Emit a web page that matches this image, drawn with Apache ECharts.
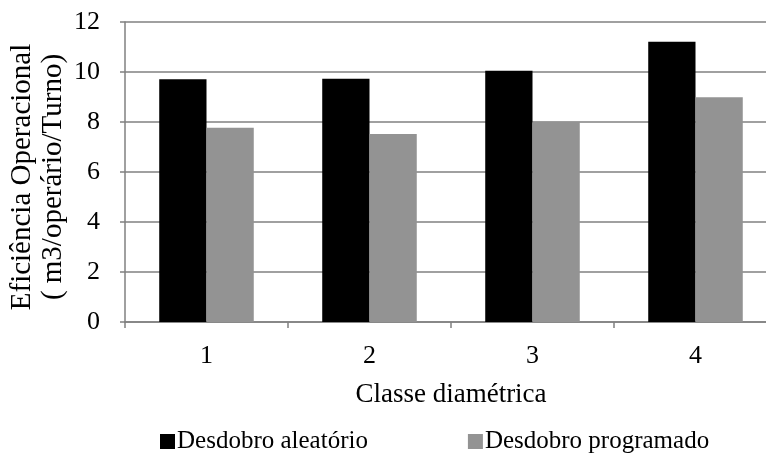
<!DOCTYPE html>
<html>
<head>
<meta charset="utf-8">
<script src="https://cdn.jsdelivr.net/npm/echarts@6/dist/echarts.min.js"></script>
<style>
  html, body { margin: 0; padding: 0; background: #fff; }
  #chart { width: 766px; height: 453px; }
</style>
</head>
<body>
<div id="chart"></div>
<script>
const categories = ['1', '2', '3', '4'];
const aleatorio = [9.71, 9.73, 10.05, 11.21];
const programado = [7.77, 7.52, 8.01, 8.99];
const yTicks = { min: 0, max: 12, interval: 2 };

const font = 'Liberation Serif';
const chart = echarts.init(document.getElementById('chart'));

chart.setOption({
  animation: false,
  textStyle: { fontFamily: font, color: '#000' },
  grid: { left: 125, right: -11, top: 22, bottom: 131, outerBoundsMode: 'none', containLabel: false },
  legend: {
    top: 424,
    left: 155,
    itemWidth: 15,
    itemHeight: 15,
    itemGap: 100,
    icon: 'rect',
    textStyle: { fontFamily: font, fontSize: 25, color: '#000', padding: [0, 0, 0, -3] },
    data: ['Desdobro aleatório', 'Desdobro programado']
  },
  xAxis: {
    type: 'category',
    data: categories,
    name: 'Classe diamétrica',
    nameLocation: 'middle',
    nameGap: 59,
    nameMoveOverlap: false,
    nameTextStyle: { fontFamily: font, fontSize: 27, color: '#000' },
    axisLine: { lineStyle: { color: '#808080', width: 1.5 } },
    axisTick: { show: true, length: 6, lineStyle: { color: '#808080', width: 1.5 } },
    axisLabel: { fontFamily: font, fontSize: 26, color: '#000', margin: 21 }
  },
  yAxis: {
    type: 'value',
    min: yTicks.min,
    max: yTicks.max,
    interval: yTicks.interval,
    name: 'Eficiência Operacional\n( m3/operário/Turno)',
    nameLocation: 'middle',
    nameGap: 56,
    nameMoveOverlap: false,
    nameTextStyle: { fontFamily: font, fontSize: 29, color: '#000', lineHeight: 31, padding: [0, 10, 0, 0] },
    axisLine: { show: true, lineStyle: { color: '#808080', width: 1.5 } },
    axisTick: { show: true, length: 5, lineStyle: { color: '#808080', width: 1.5 } },
    axisLabel: { fontFamily: font, fontSize: 26, color: '#000', margin: 25 },
    splitLine: { lineStyle: { color: '#808080', width: 1.5 } }
  },
  series: [
    {
      name: 'Desdobro aleatório',
      type: 'bar',
      data: aleatorio,
      barGap: '0%',
      barCategoryGap: '42%',
      itemStyle: { color: '#000000' }
    },
    {
      name: 'Desdobro programado',
      type: 'bar',
      data: programado,
      itemStyle: { color: '#939393' }
    }
  ]
});
</script>
</body>
</html>
